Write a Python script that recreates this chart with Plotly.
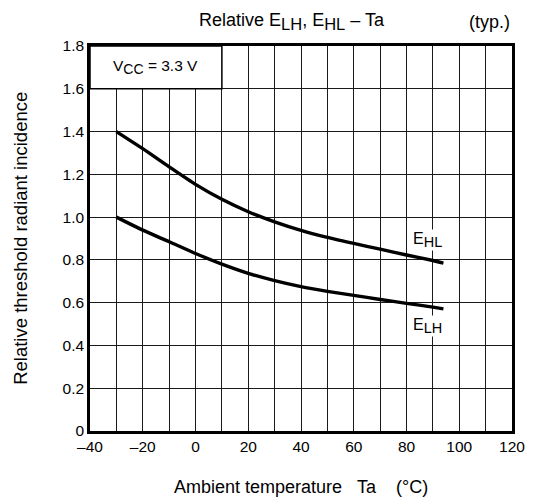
import plotly.graph_objects as go

# ---- data ----
ta_ehl = [-30, -20, -10, 0, 10, 20, 30, 40, 50, 60, 70, 80, 90, 94]
ehl = [1.40, 1.32, 1.235, 1.153, 1.083, 1.025, 0.978, 0.938, 0.905, 0.877, 0.850, 0.823, 0.797, 0.785]

ta_elh = [-30, -20, -10, 0, 10, 20, 30, 40, 50, 60, 70, 80, 90, 94]
elh = [1.00, 0.939, 0.885, 0.830, 0.780, 0.737, 0.703, 0.675, 0.653, 0.634, 0.615, 0.597, 0.579, 0.571]

x_ticks = [-40, -30, -20, -10, 0, 10, 20, 30, 40, 50, 60, 70, 80, 90, 100, 110, 120]
x_labels = ["\u201340", "", "\u201320", "", "0", "", "20", "", "40", "", "60", "", "80", "", "100", "", "120"]
y_ticks = [0, 0.2, 0.4, 0.6, 0.8, 1.0, 1.2, 1.4, 1.6, 1.8]
y_labels = ["0", "0.2", "0.4", "0.6", "0.8", "1.0", "1.2", "1.4", "1.6", "1.8"]

FONT = "Arial, 'Liberation Sans', sans-serif"


def sub(t, px):
    return '<sub><span style="font-size:%spx">%s</span></sub>' % (px, t)


# figure geometry (page is offset by the 8px body margin)
W, H = 529, 492
L, R, T, B = 82, 20, 38, 69
pw, ph = W - L - R, H - T - B


def px_x(x):
    return (x - L) / pw


def px_y(y):
    return (H - B - y) / ph


fig = go.Figure()
for xs, ys in [(ta_ehl, ehl), (ta_elh, elh)]:
    fig.add_trace(go.Scatter(x=xs, y=ys, mode="lines",
                             line=dict(color="black", width=3.4, shape="spline", smoothing=0.6),
                             showlegend=False, hoverinfo="skip"))

# condition box in top-left grid block
fig.add_shape(type="rect", x0=-40, x1=10, y0=1.6, y1=1.8, xref="x", yref="y",
              fillcolor="white", line=dict(color="black", width=1.5), layer="above")
fig.add_annotation(x=-15, y=1.7, xref="x", yref="y", text="V" + sub("CC", 14) + " = 3.3 V",
                   showarrow=False, font=dict(size=15.5, color="black", family=FONT))

fig.add_annotation(x=ta_ehl[-1] - 6, y=ehl[-1] + 0.11, xref="x", yref="y", text="E" + sub("HL", 14.5),
                   showarrow=False, bgcolor="white", borderpad=0,
                   font=dict(size=16, color="black", family=FONT))
fig.add_annotation(x=ta_elh[-1] - 6, y=elh[-1] - 0.08, xref="x", yref="y", text="E" + sub("LH", 14.5),
                   showarrow=False, bgcolor="white", borderpad=0,
                   font=dict(size=16, color="black", family=FONT))

# title
fig.add_annotation(x=px_x(190), y=px_y(14), xref="paper", yref="paper",
                   text="Relative E" + sub("LH", 16.5) + ", E" + sub("HL", 16.5) + " \u2013 Ta",
                   showarrow=False, xanchor="left", yanchor="middle",
                   font=dict(size=18, color="black", family=FONT))
fig.add_annotation(x=px_x(509), y=px_y(14), xref="paper", yref="paper", text="(typ.)",
                   showarrow=False, xanchor="right", yanchor="middle",
                   font=dict(size=18, color="black", family=FONT))

# axis titles
fig.add_annotation(x=0.5, y=px_y(479), xref="paper", yref="paper",
                   text="Ambient temperature" + "\u00a0" * 3 + "Ta" + "\u00a0" * 4 + "(\u00b0C)",
                   showarrow=False, xanchor="center", yanchor="middle",
                   font=dict(size=18, color="black", family=FONT))
fig.add_annotation(x=px_x(11.5), y=0.5, xref="paper", yref="paper",
                   text="Relative threshold radiant incidence", textangle=-90,
                   showarrow=False, xanchor="center", yanchor="middle",
                   font=dict(size=18.5, color="black", family=FONT))

fig.update_layout(
    width=W, height=H,
    margin=dict(l=L, r=R, t=T, b=B),
    paper_bgcolor="white", plot_bgcolor="white",
    font=dict(family=FONT, color="black", size=15.5),
    xaxis=dict(range=[-40, 120], tickmode="array", tickvals=x_ticks, ticktext=x_labels,
               showgrid=True, gridcolor="#1a1a1a", gridwidth=1, zeroline=False,
               showline=True, linecolor="black", linewidth=2.5, mirror=True, ticks="",
               tickfont=dict(size=15.5)),
    yaxis=dict(range=[0, 1.8], tickmode="array", tickvals=y_ticks, ticktext=y_labels,
               showgrid=True, gridcolor="#1a1a1a", gridwidth=1, zeroline=False,
               showline=True, linecolor="black", linewidth=2.5, mirror=True, ticks="",
               tickfont=dict(size=15.5)),
)

fig.write_html("out.html")
